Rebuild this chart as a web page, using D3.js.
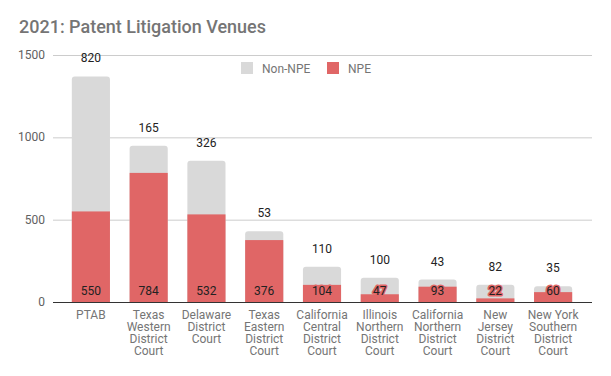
<!DOCTYPE html>
<html>
<head>
<meta charset="utf-8">
<script src="https://cdn.jsdelivr.net/npm/d3@7"></script>
<style>
  body { margin: 0; background: #fff; }
  svg { font-family: Roboto, "Noto Sans", sans-serif; }
</style>
</head>
<body>
<div id="chart"></div>
<script>
// Data
const venues = [
    ["PTAB"],
    ["Texas", "Western", "District", "Court"],
    ["Delaware", "District", "Court"],
    ["Texas", "Eastern", "District", "Court"],
    ["California", "Central", "District", "Court"],
    ["Illinois", "Northern", "District", "Court"],
    ["California", "Northern", "District", "Court"],
    ["New", "Jersey", "District", "Court"],
    ["New York", "Southern", "District", "Court"]
];
const npe = [550, 784, 532, 376, 104, 47, 93, 22, 60];
const nonNpe = [820, 165, 326, 53, 110, 100, 43, 82, 35];
const yTicks = [0, 500, 1000, 1500];

const W = 611, H = 376;
const plotLeft = 53, plotRight = 592, plotTop = 55, plotBottom = 302;
const npeColor = "#e06666", nonColor = "#d9d9d9";

const svg = d3.select("#chart").append("svg")
    .attr("width", W).attr("height", H);

// Title
svg.append("text")
    .attr("x", 19).attr("y", 33)
    .attr("textLength", 247)
    .attr("lengthAdjust", "spacingAndGlyphs")
    .style("font-size", "18px")
    .style("font-weight", "500")
    .style("fill", "#757575")
    .text("2021: Patent Litigation Venues");

const x = d3.scaleBand()
    .domain(d3.range(venues.length))
    .range([62, 582])
    .paddingInner(0.34)
    .paddingOuter(0.17);

const y = d3.scaleLinear()
    .domain([0, 1500])
    .range([plotBottom, plotTop]);

// Gridlines + y labels
svg.append("g")
    .selectAll("line")
    .data(yTicks.filter(d => d > 0))
    .enter().append("line")
    .attr("x1", plotLeft).attr("x2", plotRight)
    .attr("y1", d => y(d) + 0.5).attr("y2", d => y(d) + 0.5)
    .attr("stroke", "#cccccc");

svg.append("g")
    .selectAll("text")
    .data(yTicks)
    .enter().append("text")
    .attr("x", 45).attr("y", d => y(d) + 4)
    .attr("text-anchor", "end")
    .style("font-size", "12px")
    .style("fill", "#616161")
    .text(d => d);

// Bars
const bw = x.bandwidth();
const idx = d3.range(venues.length);

// Non-NPE on top (rounded top)
svg.append("g")
    .selectAll("path")
    .data(idx)
    .enter().append("path")
    .attr("fill", nonColor)
    .attr("d", i => {
        const x0 = x(i), x1 = x0 + bw;
        const yt = y(npe[i] + nonNpe[i]), yb = y(0);
        const r = 3;
        return `M${x0},${yb}V${yt + r}Q${x0},${yt} ${x0 + r},${yt}H${x1 - r}Q${x1},${yt} ${x1},${yt + r}V${yb}Z`;
    });

svg.append("g")
    .selectAll("rect")
    .data(idx)
    .enter().append("rect")
    .attr("x", i => x(i))
    .attr("width", bw)
    .attr("y", i => y(npe[i]))
    .attr("height", i => y(0) - y(npe[i]))
    .attr("fill", npeColor);

// Baseline
svg.append("line")
    .attr("x1", plotLeft).attr("x2", plotRight)
    .attr("y1", y(0) + 0.5).attr("y2", y(0) + 0.5)
    .attr("stroke", "#333333");

// Value labels
svg.append("g")
    .selectAll("text")
    .data(idx)
    .enter().append("text")
    .attr("x", i => x(i) + bw / 2)
    .attr("y", y(0) - 7)
    .attr("text-anchor", "middle")
    .style("font-size", "12px")
    .style("fill", "#222")
    .style("stroke", npeColor)
    .style("stroke-width", "3px")
    .style("paint-order", "stroke")
    .style("stroke-linejoin", "round")
    .text(i => npe[i]);

svg.append("g")
    .selectAll("text")
    .data(idx)
    .enter().append("text")
    .attr("x", i => x(i) + bw / 2)
    .attr("y", i => y(npe[i] + nonNpe[i]) - 14)
    .attr("text-anchor", "middle")
    .style("font-size", "12px")
    .style("fill", "#222")
    .text(i => nonNpe[i]);

// Category labels
const cat = svg.append("g")
    .selectAll("text")
    .data(idx)
    .enter().append("text")
    .attr("text-anchor", "middle")
    .style("font-size", "12px")
    .style("fill", "#757575");

cat.selectAll("tspan")
    .data(i => venues[i].map(t => ({ t, i })))
    .enter().append("tspan")
    .attr("x", d => x(d.i) + bw / 2)
    .attr("y", (d, j) => 319 + j * 12)
    .text(d => d.t);

// Legend
const legend = [
    { name: "Non-NPE", color: nonColor, x: 241 },
    { name: "NPE", color: npeColor, x: 327 }
];
const lg = svg.append("g")
    .selectAll("g")
    .data(legend)
    .enter().append("g")
    .attr("transform", d => `translate(${d.x},62)`);

lg.append("rect")
    .attr("width", 12).attr("height", 12)
    .attr("fill", d => d.color);

lg.append("text")
    .attr("x", 21).attr("y", 10.5)
    .style("font-size", "12px")
    .style("fill", "#757575")
    .text(d => d.name);
</script>
</body>
</html>
